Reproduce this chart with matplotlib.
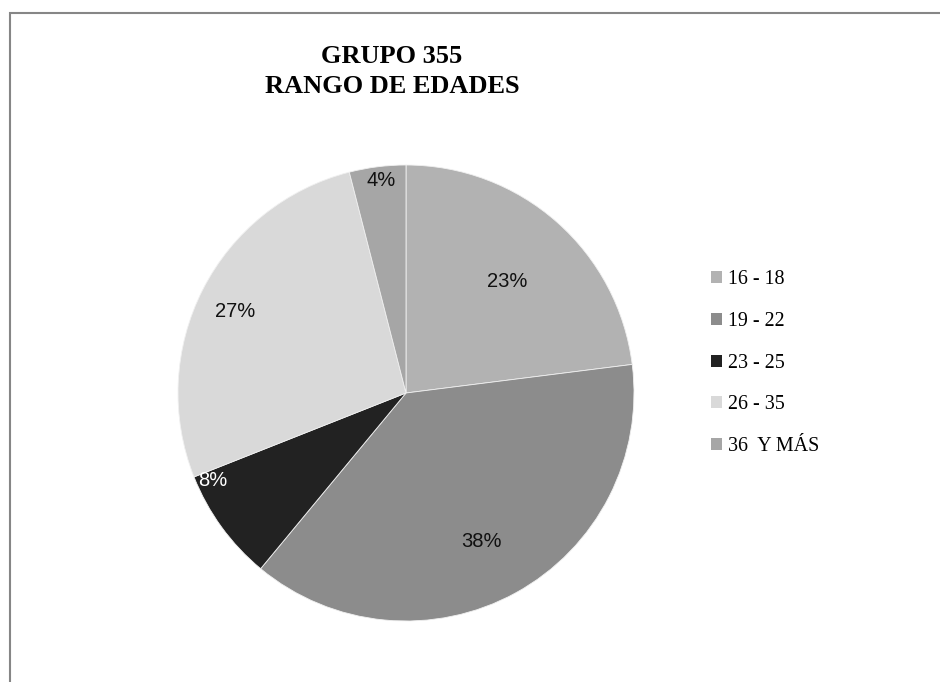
import matplotlib
matplotlib.use("Agg")
import matplotlib.pyplot as plt
import matplotlib.patches as mpatches
import numpy as np

# ---- data ----
categories = ["16 - 18", "19 - 22", "23 - 25", "26 - 35", "36  Y MÁS"]
values = [23, 38, 8, 27, 4]
pct_labels = ["23%", "38%", "8%", "27%", "4%"]
title_lines = ["GRUPO 355", "RANGO DE EDADES"]

# ---- styling ----
colors = ["#b2b2b2", "#8c8c8c", "#222222", "#d9d9d9", "#a6a6a6"]
label_colors = ["#111111", "#111111", "#ffffff", "#111111", "#111111"]
label_radius = [0.66, 0.73, 0.93, 0.83, 0.94]
label_angle_offset = [-1.0, -2.0, -11.5, 1.5, -0.5]

W, H = 940, 682
fig = plt.figure(figsize=(W / 100, H / 100), dpi=100)
fig.patch.set_facecolor("white")

# chart border (right and bottom edges fall outside the image)
border = mpatches.Rectangle((10 / W, -0.1), 1.2, 1 - 13 / H + 0.1,
                            transform=fig.transFigure, fill=False,
                            edgecolor="#868686", linewidth=1.5, zorder=0)
fig.patches.append(border)

cx, cy, R = 406, 393, 228
ax = fig.add_axes([(cx - R) / W, (H - cy - R) / H, 2 * R / W, 2 * R / H])
wedges, _ = ax.pie(values, colors=colors, startangle=90, counterclock=False,
                   radius=1.0,
                   wedgeprops=dict(edgecolor="#f0f0f0", linewidth=0.6))
ax.set_xlim(-1, 1)
ax.set_ylim(-1, 1)
ax.set_aspect("equal")
ax.axis("off")

for w, lab, r, off, c in zip(wedges, pct_labels, label_radius,
                             label_angle_offset, label_colors):
    ang = np.deg2rad((w.theta1 + w.theta2) / 2 + off)
    ax.text(r * np.cos(ang), r * np.sin(ang), lab, ha="center", va="center",
            fontsize=14.5, family="Liberation Sans", color=c)

# title
fig.text(392 / W, 1 - 63 / H, title_lines[0], ha="center", va="baseline",
         fontsize=19, fontweight="bold", family="Liberation Serif")
fig.text(392 / W, 1 - 93 / H, title_lines[1], ha="center", va="baseline",
         fontsize=19, fontweight="bold", family="Liberation Serif")

leg = fig.legend(wedges, categories, loc="upper left",
                 bbox_to_anchor=(711 / W, 1 - 270 / H),
                 frameon=False, borderpad=0, borderaxespad=0,
                 handlelength=0.55, handleheight=0.55, handletextpad=0.28,
                 labelspacing=1.14,
                 prop={"family": "Liberation Serif", "size": 14.4})
for h in leg.legend_handles:
    h.set_edgecolor("none")

fig.savefig("out.png", dpi=100, facecolor="white")
